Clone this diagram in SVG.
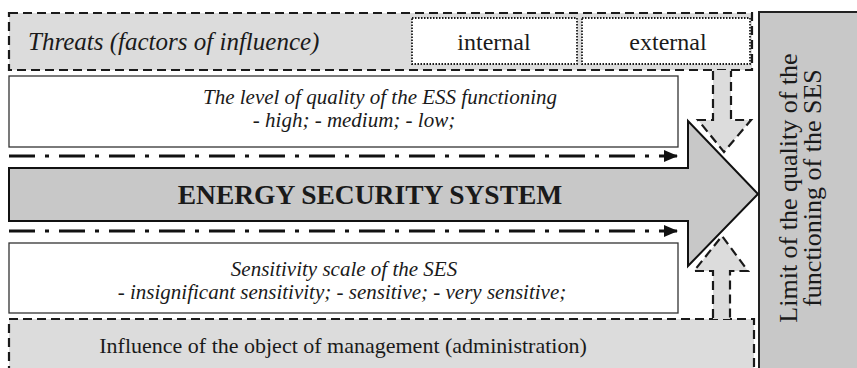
<svg xmlns="http://www.w3.org/2000/svg" width="857" height="368" viewBox="0 0 857 368">
  <defs>
    <marker id="tri" markerWidth="14" markerHeight="12" refX="13" refY="6" orient="auto" markerUnits="userSpaceOnUse">
      <path d="M0,0 L14,6 L0,12 Z" fill="#111"/>
    </marker>
    <style>
      .serif { font-family: "Liberation Serif", "Times New Roman", "DejaVu Serif", serif; fill: #1a1a1a; }
      .it { font-style: italic; }
      .dashbox { fill: #dcdcdc; stroke: #1a1a1a; stroke-width: 2.2; stroke-dasharray: 9 5; }
      .dotbox { fill: #ffffff; stroke: #1a1a1a; stroke-width: 1.8; stroke-dasharray: 1.5 1.5; }
      .plain { fill: #ffffff; stroke: #333; stroke-width: 1.3; }
      .dashdot { fill: none; stroke: #111; stroke-width: 3; stroke-dasharray: 26 10 4 10; }
      .smallfill { fill: #dcdcdc; stroke: none; }
      .smalledge { fill: none; stroke: #1a1a1a; stroke-width: 2.2; stroke-dasharray: 9 5; }
    </style>
  </defs>

  <!-- right-hand limit panel -->
  <g id="limit">
    <rect x="759" y="12" width="100" height="360" fill="#c8c8c8" stroke="#222" stroke-width="2"/>
    <text class="serif" font-size="26" text-anchor="middle" transform="translate(797,188) rotate(-90)">Limit of the quality of the</text>
    <text class="serif" font-size="26" text-anchor="middle" transform="translate(821,188) rotate(-90)">functioning of the SES</text>
  </g>

  <!-- threats block -->
  <g id="threats">
    <rect class="dashbox" x="9" y="13" width="743" height="57"/>
    <text class="serif it" font-size="25" x="28" y="50">Threats (factors of influence)</text>
  </g>
  <g id="internal">
    <rect class="dotbox" x="412" y="18" width="165" height="46"/>
    <text class="serif" font-size="24" x="494" y="50" text-anchor="middle">internal</text>
  </g>
  <g id="external">
    <rect class="dotbox" x="582" y="18" width="168" height="46"/>
    <text class="serif" font-size="24" x="668" y="50" text-anchor="middle">external</text>
  </g>

  <!-- quality level -->
  <g id="quality">
    <rect class="plain" x="9" y="76" width="669" height="71"/>
    <text class="serif it" font-size="21" x="380" y="104" text-anchor="middle">The level of quality of the ESS functioning</text>
    <text class="serif it" font-size="21" x="354" y="127" text-anchor="middle">- high; - medium; - low;</text>
  </g>

  <!-- sensitivity scale -->
  <g id="sensitivity">
    <rect class="plain" x="9" y="243" width="669" height="70"/>
    <text class="serif it" font-size="21" x="344" y="276" text-anchor="middle">Sensitivity scale of the SES</text>
    <text class="serif it" font-size="21" x="342" y="299" text-anchor="middle">- insignificant sensitivity; - sensitive; - very sensitive;</text>
  </g>

  <!-- management influence -->
  <g id="influence">
    <rect class="dashbox" x="9" y="319" width="745" height="60"/>
    <text class="serif" font-size="22" x="343" y="353" text-anchor="middle">Influence of the object of management (administration)</text>
  </g>

  <g id="connectors">
    <!-- threats acting downward -->
    <path class="smallfill" d="M713,70 V120 H698 L724,152 L751,120 H731 V70 Z"/>
    <path class="smalledge" d="M713,71 V120 H698 L724,152 L751,120 H731 V71"/>
    <!-- management acting upward -->
    <path class="smallfill" d="M713,319 V271 H694 L722,236 L748,271 H730 V319 Z"/>
    <path class="smalledge" d="M713,318 V271 H694 L722,236 L748,271 H730 V318"/>
    <!-- dash-dot flow lines -->
    <line class="dashdot" x1="9" y1="156" x2="677" y2="156" marker-end="url(#tri)"/>
    <line class="dashdot" x1="9" y1="231" x2="677" y2="231" marker-end="url(#tri)"/>
  </g>

  <!-- main system arrow -->
  <g id="ess">
    <path d="M9,168 H688 V121 L758,194 L688,266 V221 H9 Z" fill="#c8c8c8" stroke="#111" stroke-width="2" stroke-linejoin="miter"/>
    <text class="serif" font-size="27.5" font-weight="bold" x="370" y="204" text-anchor="middle">ENERGY SECURITY SYSTEM</text>
  </g>
</svg>
